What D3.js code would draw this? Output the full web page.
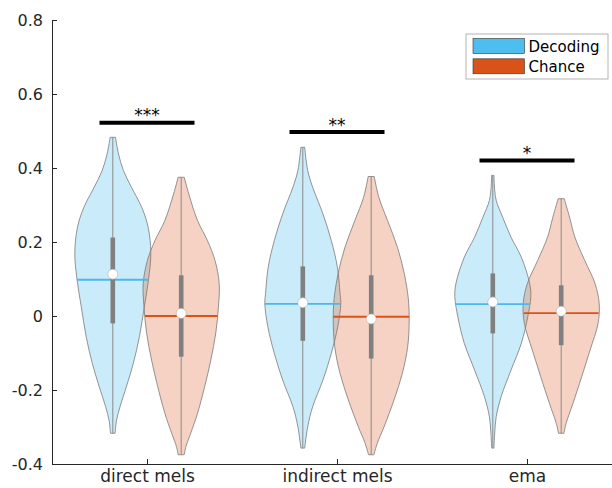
<!DOCTYPE html>
<html><head><meta charset="utf-8">
<script src="https://cdn.jsdelivr.net/npm/d3@7"></script>
<style>body{margin:0;background:#fff}svg{display:block;font-family:"DejaVu Sans",sans-serif}</style>
</head><body><svg id="c" width="612" height="488"></svg>
<script>
const categories = ["direct mels", "indirect mels", "ema"];
const groups = ["Decoding", "Chance"];
const yTicks = [-0.4, -0.2, 0, 0.2, 0.4, 0.6, 0.8];
const yTickLabels = ["-0.4", "-0.2", "0", "0.2", "0.4", "0.6", "0.8"];

const decodingMedian = [0.113, 0.036, 0.038];
const decodingMean   = [0.098, 0.033, 0.032];
const decodingQ1     = [-0.02, -0.067, -0.047];
const decodingQ3     = [0.212, 0.134, 0.115];
const decodingMin    = [-0.317, -0.357, -0.357];
const decodingMax    = [0.483, 0.456, 0.38];

const chanceMedian = [0.007, -0.008, 0.013];
const chanceMean   = [0.0, -0.002, 0.008];
const chanceQ1     = [-0.11, -0.115, -0.079];
const chanceQ3     = [0.11, 0.11, 0.083];
const chanceMin    = [-0.375, -0.375, -0.317];
const chanceMax    = [0.375, 0.377, 0.317];

// [value, relative density]
const decodingDensity = [
 [[0.483,0.07],[0.438,0.15],[0.393,0.28],[0.348,0.49],[0.294,0.76],[0.24,0.93],[0.169,1.0],[0.098,0.94],[0.025,0.83],[-0.056,0.70],[-0.128,0.54],[-0.19,0.36],[-0.245,0.19],[-0.281,0.10],[-0.317,0.06]],
 [[0.456,0.05],[0.393,0.13],[0.348,0.26],[0.276,0.53],[0.204,0.75],[0.132,0.91],[0.061,0.98],[0.034,1.0],[-0.029,0.92],[-0.101,0.75],[-0.173,0.53],[-0.245,0.26],[-0.299,0.13],[-0.357,0.05]],
 [[0.38,0.03],[0.34,0.05],[0.312,0.09],[0.267,0.26],[0.213,0.48],[0.159,0.75],[0.088,0.97],[0.052,1.0],[-0.002,0.92],[-0.074,0.75],[-0.146,0.48],[-0.218,0.22],[-0.272,0.09],[-0.317,0.05],[-0.357,0.03]]
];
const chanceDensity = [
 [[0.375,0.08],[0.33,0.2],[0.258,0.43],[0.204,0.69],[0.15,0.89],[0.088,1.0],[0.025,0.98],[-0.046,0.91],[-0.119,0.78],[-0.19,0.62],[-0.263,0.43],[-0.317,0.25],[-0.353,0.125],[-0.375,0.08]],
 [[0.377,0.08],[0.321,0.2],[0.258,0.43],[0.186,0.69],[0.115,0.87],[0.043,0.98],[-0.011,1.0],[-0.083,0.96],[-0.155,0.82],[-0.227,0.6],[-0.299,0.34],[-0.344,0.16],[-0.375,0.07]],
 [[0.317,0.08],[0.267,0.22],[0.213,0.36],[0.15,0.62],[0.088,0.89],[0.034,1.0],[-0.02,0.97],[-0.092,0.76],[-0.164,0.54],[-0.236,0.31],[-0.29,0.13],[-0.317,0.07]]
];

const sigLabels = ["***", "**", "*"];
const sigLevel  = [0.522, 0.497, 0.42];

// ---------- drawing ----------
const svg = d3.select("#c");
const x = d3.scaleLinear().domain([0.5, 3.5]).range([52, 622]);
const y = d3.scaleLinear().domain([-0.4, 0.8]).range([464, 20]);
const groupOffset = {Decoding: -0.18, Chance: 0.18};
const halfW = d3.scaleLinear().domain([0, 1]).range([0, x(0.7) - x(0.5)]); // density -> px
const fillCol = {Decoding: "#4DBEEE", Chance: "#D95319"};
const fillOp = {Decoding: 0.3, Chance: 0.26};
const lineCol = {Decoding: "#4DB6EA", Chance: "#D95319"};
const axisCol = "#262626";

const series = {
  Decoding: {median: decodingMedian, mean: decodingMean, q1: decodingQ1, q3: decodingQ3, min: decodingMin, max: decodingMax, dens: decodingDensity},
  Chance:   {median: chanceMedian, mean: chanceMean, q1: chanceQ1, q3: chanceQ3, min: chanceMin, max: chanceMax, dens: chanceDensity}
};

function densAt(prof, v) {
  const s = prof.slice().sort((a, b) => a[0] - b[0]);
  for (let i = 0; i < s.length - 1; i++) {
    if (v >= s[i][0] && v <= s[i+1][0]) {
      const t = (v - s[i][0]) / (s[i+1][0] - s[i][0]);
      return s[i][1] + t * (s[i+1][1] - s[i][1]);
    }
  }
  return 0;
}

const plot = svg.append("g");
categories.forEach((cat, ci) => {
  groups.forEach(g => {
    const s = series[g];
    const cx = x(ci + 1 + groupOffset[g]);
    const prof = s.dens[ci];
    const area = d3.area()
      .y(d => y(d[0]))
      .x0(d => cx - halfW(d[1]))
      .x1(d => cx + halfW(d[1]))
      .curve(d3.curveCatmullRom.alpha(0.5));
    plot.append("path").datum(prof)
      .attr("d", area)
      .attr("fill", fillCol[g]).attr("fill-opacity", fillOp[g])
      .attr("stroke", "#7a7a7a").attr("stroke-width", 0.8);
  });
});
categories.forEach((cat, ci) => {
  groups.forEach(g => {
    const s = series[g];
    const cx = x(ci + 1 + groupOffset[g]);
    plot.append("line").attr("x1", cx).attr("x2", cx)
      .attr("y1", y(s.max[ci])).attr("y2", y(s.min[ci]))
      .attr("stroke", "#8a8a8a").attr("stroke-width", 1);
    const hw = halfW(densAt(s.dens[ci], s.mean[ci]));
    plot.append("line").attr("x1", cx - hw).attr("x2", cx + hw)
      .attr("y1", y(s.mean[ci])).attr("y2", y(s.mean[ci]))
      .attr("stroke", lineCol[g]).attr("stroke-width", 1.8);
    plot.append("rect").attr("x", cx - 2.3).attr("width", 4.6)
      .attr("y", y(s.q3[ci])).attr("height", y(s.q1[ci]) - y(s.q3[ci]))
      .attr("fill", "#808080");
    plot.append("circle").attr("cx", cx).attr("cy", y(s.median[ci])).attr("r", 5)
      .attr("fill", "#fff").attr("stroke", "#b0b0b0").attr("stroke-width", 0.6);
  });
});

// significance bars
categories.forEach((cat, ci) => {
  const yy = y(sigLevel[ci]);
  svg.append("line").attr("x1", x(ci + 1 - 0.25)).attr("x2", x(ci + 1 + 0.25))
    .attr("y1", yy).attr("y2", yy).attr("stroke", "#000").attr("stroke-width", 4);
  svg.append("text").attr("x", x(ci + 1)).attr("y", yy - 1.5)
    .attr("text-anchor", "middle").attr("font-size", 17).attr("fill", "#000")
    .text(sigLabels[ci]);
});

// axes
const yAxis = d3.axisLeft(y).tickValues(yTicks).tickFormat((d, i) => yTickLabels[i]).tickSizeInner(-5).tickSizeOuter(0).tickPadding(9);
const gy = svg.append("g").attr("transform", `translate(${x(0.5)},0)`).call(yAxis);
gy.select(".domain").attr("stroke", axisCol);
gy.selectAll(".tick line").attr("stroke", axisCol);
gy.selectAll(".tick text").attr("fill", axisCol).attr("font-size", 16).attr("font-family", "DejaVu Sans").attr("dy", "0.34em");

const xAxis = d3.axisBottom(x).tickValues([1, 2, 3]).tickFormat((d, i) => categories[i]).tickSizeInner(-5).tickSizeOuter(0).tickPadding(6);
const gx = svg.append("g").attr("transform", `translate(0,${y(-0.4)})`).call(xAxis);
gx.select(".domain").attr("stroke", axisCol);
gx.selectAll(".tick line").attr("stroke", axisCol);
gx.selectAll(".tick text").attr("fill", axisCol).attr("font-size", 17).attr("font-family", "DejaVu Sans");

// legend
const lg = svg.append("g");
lg.append("rect").attr("x", 466).attr("y", 34).attr("width", 142).attr("height", 45)
  .attr("fill", "#fff").attr("stroke", "#a0a0a0").attr("stroke-width", 0.8);
groups.forEach((g, i) => {
  lg.append("rect").attr("x", 473).attr("y", 38.5 + i * 20.3).attr("width", 51.5).attr("height", 15)
    .attr("fill", fillCol[g]).attr("stroke", "#333").attr("stroke-width", 0.6);
  lg.append("text").attr("x", 528.5).attr("y", 51.7 + i * 20).attr("font-size", 15).attr("fill", "#000").text(g);
});
</script></body></html>
